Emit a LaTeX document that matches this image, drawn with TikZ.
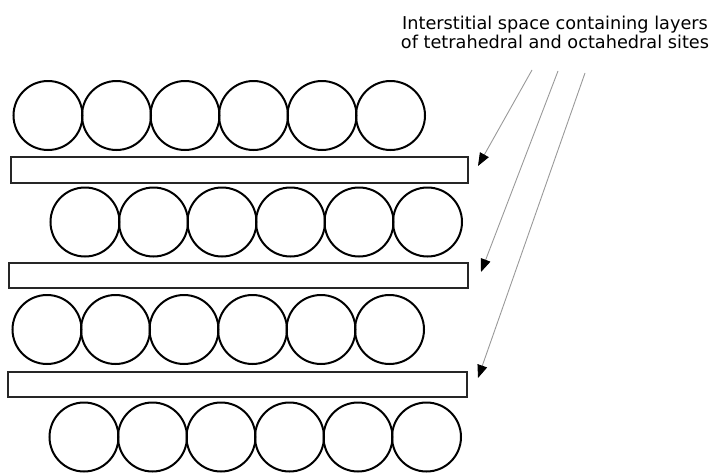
\documentclass[tikz,border=0pt]{standalone}
\usepackage{fontspec}
\newfontfamily\labelfont{DejaVu Sans}
\usetikzlibrary{arrows.meta}
\begin{document}
\begin{tikzpicture}[x=1pt,y=-1pt,
  atom/.style={circle,draw=black,line width=2pt,minimum size=69pt,inner sep=0pt},
  layer/.style={draw=black!85,line width=1.3pt,fill=white},
  pointer/.style={draw=black!40,line width=0.9pt,-{Triangle[length=13pt,width=10pt,black]}},
  caption/.style={font=\labelfont\fontsize{17.7}{19.5}\selectfont,inner sep=0pt}]
\useasboundingbox (0,0) rectangle (710,474);
% layers of atoms
\foreach \i in {0,...,5} {
  \node[atom] (a1-\i) at ({48+68.5*\i},115.5) {};
  \node[atom] (a2-\i) at ({85+68.5*\i},222) {};
  \node[atom] (a3-\i) at ({47+68.5*\i},329.5) {};
  \node[atom] (a4-\i) at ({84+68.5*\i},437) {};
}
% interstitial layers
\draw[layer] (11,157) rectangle (468,183);
\draw[layer] (9,263) rectangle (468,288);
\draw[layer] (8,372) rectangle (467,397);
% caption
\node[caption,anchor=base] (t1) at (555,29.5) {Interstitial space containing layers};
\node[caption,anchor=base] (t2) at (555,48) {of tetrahedral and octahedral sites};
% arrows
\coordinate (s1) at (532,70);
\coordinate (s2) at (558,71);
\coordinate (s3) at (585,73);
\coordinate (e1) at (478,166);
\coordinate (e2) at (481,272);
\coordinate (e3) at (478,378);
\draw[pointer] (s1) -- (e1);
\draw[pointer] (s2) -- (e2);
\draw[pointer] (s3) -- (e3);
\end{tikzpicture}
\end{document}
